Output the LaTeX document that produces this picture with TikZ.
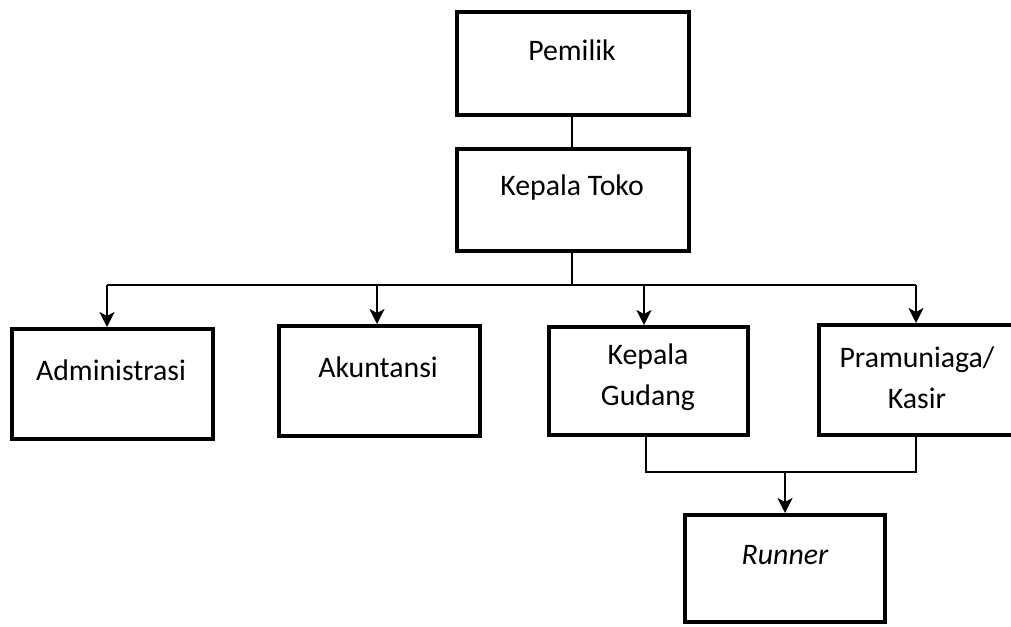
\documentclass[tikz,border=0pt]{standalone}
\usepackage{fontspec}
\setmainfont{Carlito}
\usetikzlibrary{arrows.meta}
\begin{document}
\begin{tikzpicture}[x=1pt,y=-1pt,
  box/.style={draw=black,line width=4pt,inner sep=0pt},
  lbl/.style={font=\fontsize{29.8}{41}\selectfont,align=center,inner sep=0pt},
  conn/.style={line width=2pt},
  arr/.style={line width=2pt,-{Stealth[length=15pt,width=15pt,inset=4pt]}}]
\useasboundingbox (0,0) rectangle (1011,626);
\begin{scope}
\clip (0,0) rectangle (1011,626);
\node[box,minimum width=232pt,minimum height=103pt] (pem) at (573,63.5) {};
\node[box,minimum width=232pt,minimum height=102pt] (kt) at (573,200) {};
\node[box,minimum width=201pt,minimum height=110pt] (adm) at (112.5,384) {};
\node[box,minimum width=201pt,minimum height=110pt] (aku) at (379.5,381) {};
\node[box,minimum width=199pt,minimum height=108pt] (kg) at (648.5,381) {};
\node[box,minimum width=200pt,minimum height=110pt] (pk) at (919,380) {};
\node[box,minimum width=200pt,minimum height=107pt] (run) at (785,568.5) {};
\end{scope}
\node[lbl] (tpem) at (572,50) {Pemilik};
\node[lbl] (tkt) at (572,188) {Kepala Toko};
\node[lbl] (tadm) at (111,370) {Administrasi};
\node[lbl] (taku) at (378,367) {Akuntansi};
\node[lbl] (tkg) at (648,377.5) {Kepala\\Gudang};
\node[lbl] (tpk) at (917,377.5) {Pramuniaga/\\Kasir};
\node[lbl] (trun) at (785,555) {\itshape Runner};
% coordinates
\coordinate (hub) at (572,285);
\coordinate (b1) at (107,285);
\coordinate (b2) at (377,285);
\coordinate (b3) at (644,285);
\coordinate (b4) at (916,285);
\coordinate (j1) at (646,472);
\coordinate (j2) at (916,472);
\coordinate (j3) at (785,472);
% connectors
\draw[conn] (pem.south -| hub) -- (kt.north -| hub);
\draw[conn] (kt.south -| hub) -- (hub);
\draw[conn] (b1) -- (b4);
\draw[arr] (b1) -- (adm.north -| b1);
\draw[arr] (b2) -- (aku.north -| b2);
\draw[arr] (b3) -- (kg.north -| b3);
\draw[arr] (b4) -- (pk.north -| b4);
\draw[conn] (kg.south -| j1) -- (j1) -- (j2) -- (pk.south -| j2);
\draw[arr] (j3) -- (run.north);
\end{tikzpicture}
\end{document}
